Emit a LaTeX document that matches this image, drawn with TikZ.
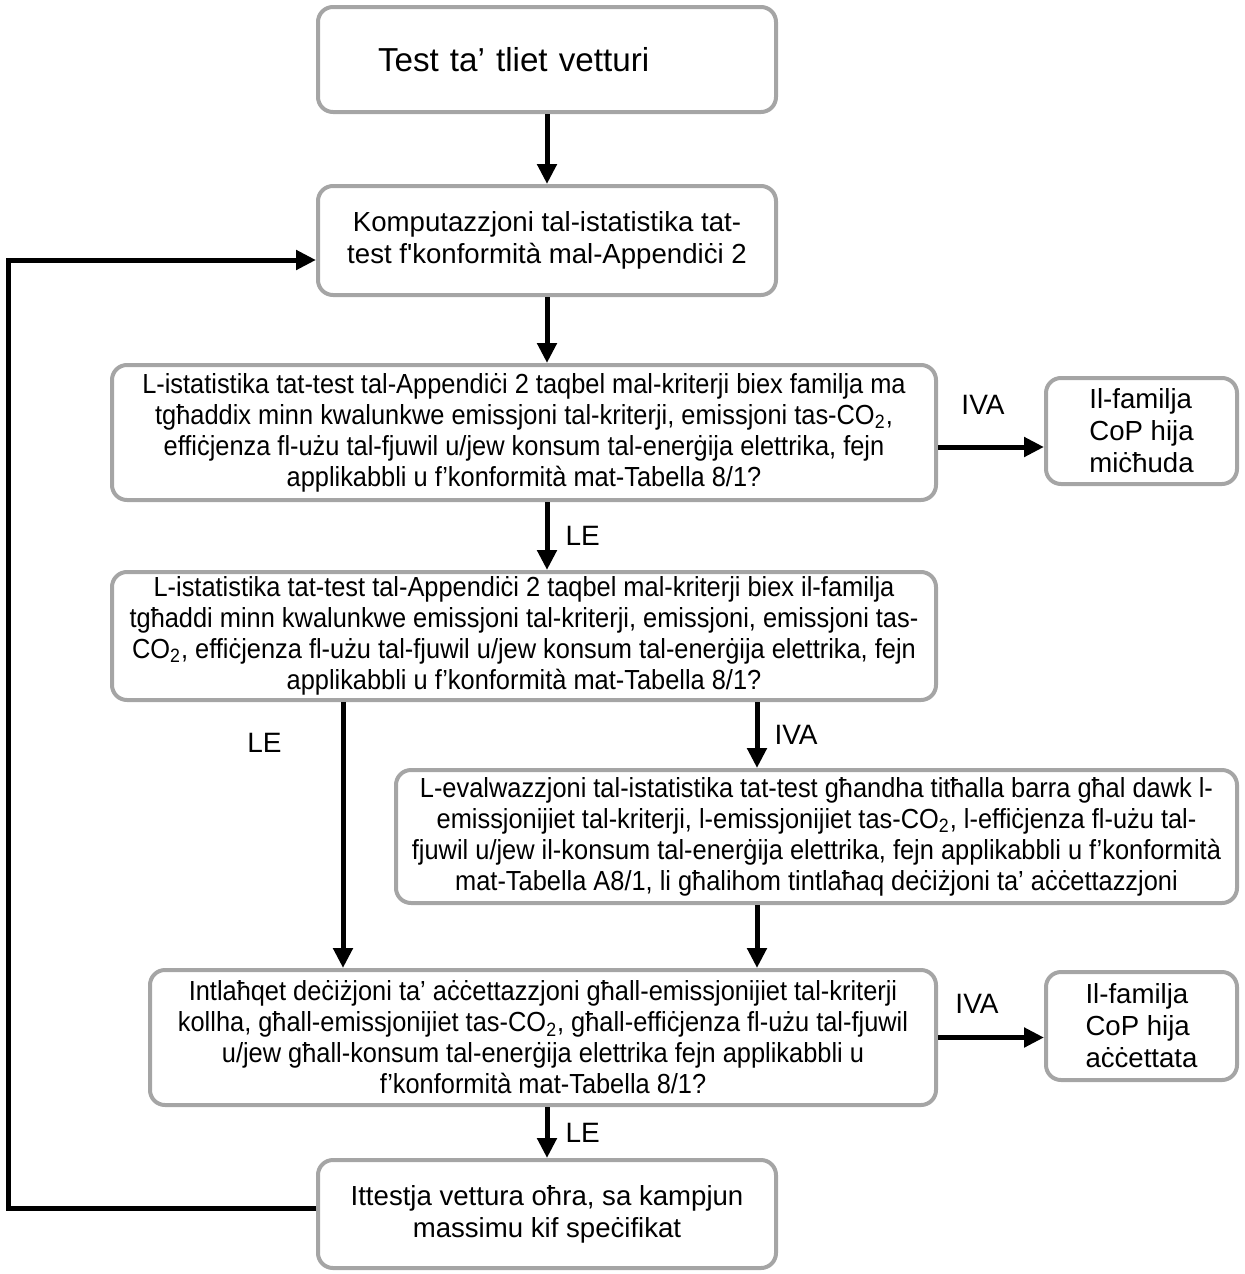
\documentclass[tikz,border=0pt]{standalone}
\usepackage{fontspec}
\setmainfont{Liberation Sans}
\newfontfamily\narrowfont{Liberation Sans}[FakeStretch=0.92]
\usetikzlibrary{arrows.meta,positioning,calc}
\definecolor{boxgray}{RGB}{165,165,165}

\begin{document}
\begin{tikzpicture}[
    x=0.5pt, y=-0.5pt,
    font=\fontsize{13.8}{16}\selectfont,
    box/.style={draw=boxgray, line width=2pt, rounded corners=7.5pt, align=center, inner sep=0pt},
    wide/.style={box, font=\fontsize{13.8}{15.5}\selectfont\narrowfont},
    result/.style={box, align=left, minimum width=95.5pt},
    arrow/.style={-{Triangle[length=10pt,width=9.5pt]}, line width=2.5pt},
    lbl/.style={font=\fontsize{14}{16}\selectfont, inner sep=0pt}
  ]
    \useasboundingbox (0,0) rectangle (1244,1274);
    \node[box, minimum width=229pt, minimum height=52.5pt, align=left, text width=169pt,
      inner xsep=30pt, font=\fontsize{16.6}{20}\selectfont] (start) at (547,59.5) {Test ta’ tliet vetturi};
    \node[box, minimum width=229pt, minimum height=54.5pt] (comp) at (547,240.5)
      {Komputazzjoni tal-istatistika tat-\\test f\textquotesingle konformità mal-Appendiċi 2};
    \node[wide, minimum width=412pt, minimum height=67.5pt] (crit1) at (524,432.5)
      {L-istatistika tat-test tal-Appendiċi 2 taqbel mal-kriterji biex familja ma\\
       tgħaddix minn kwalunkwe emissjoni tal-kriterji, emissjoni tas-CO\textsubscript{2},\\
       effiċjenza fl-użu tal-fjuwil u/jew konsum tal-enerġija elettrika, fejn\\
       applikabbli u f’konformità mat-Tabella 8/1?};
    \node[result, minimum height=53pt] (reject) at (1141.5,431) {Il-familja\\CoP hija\\miċħuda};
    \node[wide, minimum width=412pt, minimum height=64pt] (crit2) at (524,636)
      {L-istatistika tat-test tal-Appendiċi 2 taqbel mal-kriterji biex il-familja\\
       tgħaddi minn kwalunkwe emissjoni tal-kriterji, emissjoni, emissjoni tas-\\
       CO\textsubscript{2}, effiċjenza fl-użu tal-fjuwil u/jew konsum tal-enerġija elettrika, fejn\\
       applikabbli u f’konformità mat-Tabella 8/1?};
    \node[wide, minimum width=420.5pt, minimum height=66.5pt] (evalw) at (816.5,836.5)
      {L-evalwazzjoni tal-istatistika tat-test għandha titħalla barra għal dawk l-\\
       emissjonijiet tal-kriterji, l-emissjonijiet tas-CO\textsubscript{2}, l-effiċjenza fl-użu tal-\\
       fjuwil u/jew il-konsum tal-enerġija elettrika, fejn applikabbli u f’konformità\\
       mat-Tabella A8/1, li għalihom tintlaħaq deċiżjoni ta’ aċċettazzjoni};
    \node[wide, minimum width=393pt, minimum height=67.5pt] (decis) at (543,1037.5)
      {Intlaħqet deċiżjoni ta’ aċċettazzjoni għall-emissjonijiet tal-kriterji\\
       kollha, għall-emissjonijiet tas-CO\textsubscript{2}, għall-effiċjenza fl-użu tal-fjuwil\\
       u/jew għall-konsum tal-enerġija elettrika fejn applikabbli u\\
       f’konformità mat-Tabella 8/1?};
    \node[result, minimum height=54pt] (accept) at (1141.5,1026) {Il-familja\\CoP hija\\aċċettata};
    \node[box, minimum width=229pt, minimum height=54pt] (retest) at (547,1214)
      {Ittestja vettura oħra, sa kampjun\\massimu kif speċifikat};
    \draw[arrow] (start) -- (comp);
    \draw[arrow] (comp) -- (comp.south |- crit1.north);
    \draw[arrow] ([yshift=-7.25pt]crit1.east) -- ([yshift=-7.25pt]crit1.east -| reject.west)
      node[lbl, midway, above=15pt, xshift=-4pt] {IVA};
    \draw[arrow] (comp.south |- crit1.south) -- (comp.south |- crit2.north)
      node[lbl, midway, right=8pt] {LE};
    \draw[arrow] ([xshift=-90.5pt]crit2.south) -- ([xshift=-90.5pt]crit2.south |- decis.north)
      node[lbl, pos=0.155, left=29.5pt] {LE};
    \draw[arrow] ([xshift=116.5pt]crit2.south) -- ([xshift=116.5pt]crit2.south |- evalw.north)
      node[lbl, midway, right=7.5pt] {IVA};
    \draw[arrow] ([xshift=-29.75pt]evalw.south) -- ([xshift=-29.75pt]evalw.south |- decis.north);
    \draw[arrow] (decis.east) -- (decis.east -| accept.west)
      node[lbl, midway, above=11pt, xshift=-7pt] {IVA};
    \draw[arrow] (retest.north |- decis.south) -- (retest)
      node[lbl, midway, right=8pt] {LE};
    \draw[arrow] ([yshift=3pt]retest.west) -- ++(-308,0) |- ([yshift=-9.75pt]comp.west);
  \end{tikzpicture}
\end{document}
